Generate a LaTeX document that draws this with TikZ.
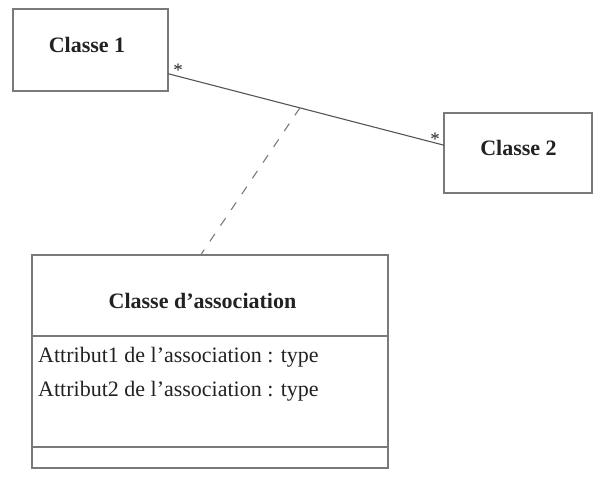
\documentclass[tikz,border=0pt]{standalone}
\usepackage{fontspec}
\setmainfont{Liberation Serif}
\usetikzlibrary{calc}
\definecolor{boxgray}{HTML}{7A7A7A}
\definecolor{linegray}{HTML}{555555}
\definecolor{txt}{HTML}{222222}
\begin{document}
\begin{tikzpicture}[x=1pt,y=-1pt,
  classbox/.style={draw=boxgray,line width=1.1pt,minimum width=#1,inner sep=0pt,outer sep=0pt},
  cname/.style={font=\fontsize{22}{26}\selectfont\bfseries,text=txt,anchor=base,inner sep=0pt},
  attr/.style={font=\fontsize{22}{26}\selectfont,text=txt,anchor=base west,inner sep=0pt},
  mult/.style={font=\fontsize{19}{19}\selectfont,text=txt,inner sep=0pt},
  assocline/.style={draw=linegray,line width=1.1pt},
  dashline/.style={draw=boxgray,line width=1.1pt,dash pattern=on 9pt off 10pt}]
\useasboundingbox (0,0) rectangle (593,481);
% boxes
\node[classbox=155pt,minimum height=82pt] (c1) at (90.5,50) {};
\node[classbox=148pt,minimum height=80pt] (c2) at (518,153) {};
\node[classbox=356pt,minimum height=81pt] (an) at (210,295.5) {};
\node[classbox=356pt,minimum height=111pt] (aa) at (210,391.5) {};
\node[classbox=356pt,minimum height=21pt] (ao) at (210,457.5) {};
% texts
\node[cname] (t1) at (87,53) {Classe 1};
\node[cname] (t2) at (518.5,155) {Classe 2};
\node[cname] (tn) at (202.5,308) {Classe d'association};
\node[attr] (ta1) at (38,362) {Attribut1 de l'association : type};
\node[attr] (ta2) at (38,396) {Attribut2 de l'association : type};
% association
\draw[assocline] (c1.-17.9) -- coordinate[pos=0.478] (m) (c2.174.6);
\node[mult] (s1) at (178,70) {*};
\node[mult] (s2) at (435,139) {*};
\draw[dashline] (m) -- (an.103.9);
\end{tikzpicture}
\end{document}
